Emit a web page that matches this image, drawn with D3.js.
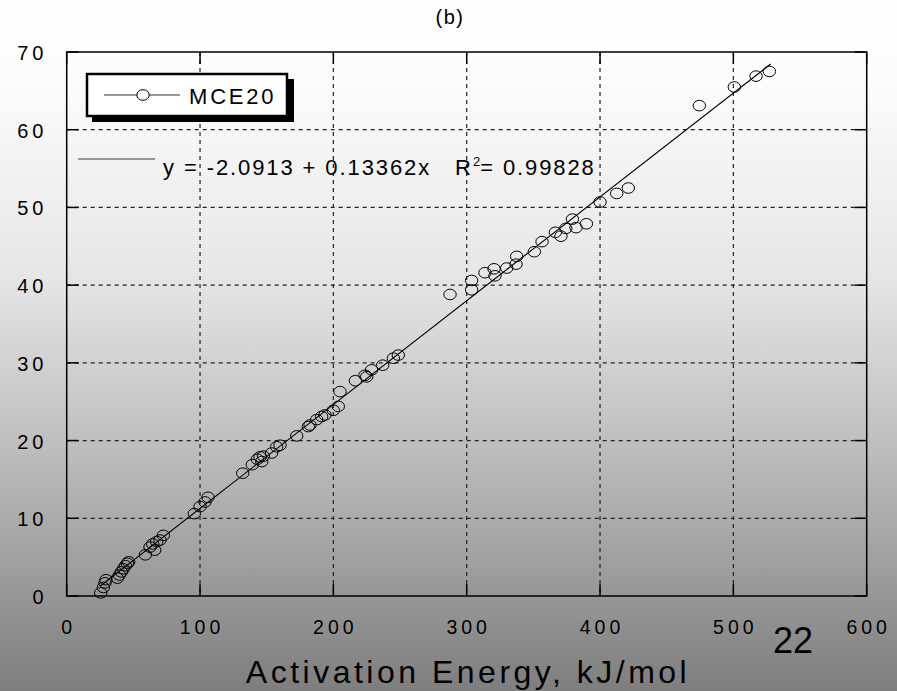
<!DOCTYPE html>
<html>
<head>
<meta charset="utf-8">
<script src="https://cdn.jsdelivr.net/npm/d3@7"></script>
<style>
	body { margin: 0; }
	svg text { font-family: "Liberation Sans", Arial, sans-serif; fill: #000; }
</style>
</head>
<body>
<svg width="897" height="691"></svg>
<script>
// @ Data
const activationEnergy = [
	25.5, 27.5, 28.7, 29.5, 38, 39.5, 41, 42.5, 44, 45.5, 46.5,
	59, 62.5, 64.5, 66, 67.5, 70, 72.5, 95.7, 100, 103.7, 106,
	132, 139.2, 143, 146.3, 145, 147.5, 153.7, 157.5, 160, 172.5,
	181.2, 182.5, 187.5, 191.2, 193.7, 200, 203.7, 205, 216.5,
	223.7, 225, 228.7, 237, 245, 248.7, 287.5, 303.7, 303.7, 313.7,
	320.5, 321.2, 330, 337, 337.5, 350.7, 356.5, 366.5, 370.7,
	374.3, 379.3, 382, 389.8, 400, 412.5, 421.2, 474.5, 500.7, 517, 527,
];
const yValues = [
	0.4, 1.1, 1.7, 2.1, 2.3, 2.7, 3.1, 3.5, 3.9, 4.2, 4.4,
	5.3, 6.3, 6.7, 5.9, 7.0, 7.2, 7.8, 10.6, 11.5, 12.1, 12.7,
	15.8, 16.9, 17.6, 17.3, 17.9, 18.0, 18.4, 19.2, 19.4, 20.6,
	21.8, 22.0, 22.7, 23.1, 23.3, 23.9, 24.4, 26.3, 27.7,
	28.4, 28.2, 29.1, 29.7, 30.6, 31.0, 38.8, 40.6, 39.4, 41.6,
	42.1, 41.2, 42.2, 42.7, 43.7, 44.3, 45.6, 46.8, 46.3,
	47.3, 48.5, 47.4, 47.9, 50.7, 51.8, 52.5, 63.1, 65.5, 66.9, 67.5,
];
const xTicks = [0, 100, 200, 300, 400, 500, 600];
const yTicks = [0, 10, 20, 30, 40, 50, 60, 70];
const fitIntercept = -2.0913;
const fitSlope = 0.13362;
const fitR2 = "0.99828";
const fitRange = [25, 528];
const seriesName = "MCE20";

const points = activationEnergy.map((d, i) => ({ x: d, y: yValues[i] }));

// @ Layout
const W = 897, H = 691;
const plot = { left: 66.7, right: 866.7, top: 52, bottom: 596 };
const svg = d3.select("svg");

const x = d3.scaleLinear().domain([0, 600]).range([plot.left, plot.right]);
const y = d3.scaleLinear().domain([0, 70]).range([plot.bottom, plot.top]);

// background gradient
const defs = svg.append("defs");
const grad = defs.append("linearGradient")
	.attr("id", "bg").attr("x1", 0).attr("y1", 0).attr("x2", 0).attr("y2", 1);
[[0, "#ffffff"], [0.12, "#fcfcfc"], [0.4, "#e6e6e6"], [0.65, "#bdbdbd"], [1, "#7e7e7e"]]
	.forEach(([o, c]) => grad.append("stop").attr("offset", o).attr("stop-color", c));
svg.append("rect").attr("width", W).attr("height", H).attr("fill", "url(#bg)");

// @ Grid
const grid = svg.append("g").attr("stroke", "#222").attr("stroke-width", 1.2)
	.attr("stroke-dasharray", "4,4");
grid.selectAll("line.v")
	.data(xTicks.slice(1, -1))
	.enter().append("line")
	.attr("x1", (d) => x(d)).attr("x2", (d) => x(d))
	.attr("y1", plot.top).attr("y2", plot.bottom);
grid.selectAll("line.h")
	.data(yTicks.slice(1, -1))
	.enter().append("line")
	.attr("y1", (d) => y(d)).attr("y2", (d) => y(d))
	.attr("x1", plot.left).attr("x2", plot.right);

// frame
svg.append("rect")
	.attr("x", plot.left).attr("y", plot.top)
	.attr("width", plot.right - plot.left).attr("height", plot.bottom - plot.top)
	.attr("fill", "none").attr("stroke", "#000").attr("stroke-width", 1.5);

// inward ticks
const tickLen = 12;
const ticks = svg.append("g").attr("stroke", "#000").attr("stroke-width", 1.5);
yTicks.forEach((t) => {
	ticks.append("line").attr("x1", plot.left).attr("x2", plot.left + tickLen)
		.attr("y1", y(t)).attr("y2", y(t));
	ticks.append("line").attr("x1", plot.right - tickLen).attr("x2", plot.right)
		.attr("y1", y(t)).attr("y2", y(t));
});
xTicks.forEach((t) => {
	ticks.append("line").attr("x1", x(t)).attr("x2", x(t))
		.attr("y1", plot.bottom).attr("y2", plot.bottom - tickLen);
	ticks.append("line").attr("x1", x(t)).attr("x2", x(t))
		.attr("y1", plot.top).attr("y2", plot.top + tickLen);
});

// @ Tick labels (aligned on glyph box, so letter-spacing doesn't shift them)
svg.append("g").selectAll("text")
	.data(yTicks).enter().append("text")
	.attr("x", 0).attr("y", (d) => y(d) + 8)
	.style("font-size", "20px").style("letter-spacing", "4px")
	.text((d) => d)
	.each(function () {
		const b = this.getBBox();
		const glyphRight = b.x + b.width - 4; // drop trailing spacing
		d3.select(this).attr("x", 43.5 - glyphRight);
	});
svg.append("g").selectAll("text")
	.data(xTicks).enter().append("text")
	.attr("x", 0).attr("y", 634)
	.style("font-size", "19.5px").style("letter-spacing", "4px")
	.text((d) => d)
	.each(function (d) {
		const b = this.getBBox();
		const w = b.width - 4;
		d3.select(this).attr("x", x(d) - w / 2 - b.x);
	});

// @ Fit line + points
const line = d3.line().x((d) => x(d)).y((d) => y(fitIntercept + fitSlope * d));
svg.append("path")
	.attr("d", line(fitRange))
	.attr("fill", "none").attr("stroke", "#000").attr("stroke-width", 1.1);

svg.append("g").selectAll("ellipse")
	.data(points).enter().append("ellipse")
	.attr("cx", (d) => x(d.x)).attr("cy", (d) => y(d.y))
	.attr("rx", 6.2).attr("ry", 5.3)
	.attr("fill", "none").attr("stroke", "#000").attr("stroke-width", 1);

// @ Legend
const lg = svg.append("g");
lg.append("rect").attr("x", 92).attr("y", 79).attr("width", 202).attr("height", 43).attr("fill", "#000");
lg.append("rect").attr("x", 87).attr("y", 74).attr("width", 200).attr("height", 42)
	.attr("fill", "#fff").attr("stroke", "#000").attr("stroke-width", 2.5);
lg.append("line").attr("x1", 104).attr("x2", 180).attr("y1", 95).attr("y2", 95)
	.attr("stroke", "#777").attr("stroke-width", 1.3);
lg.append("ellipse").attr("cx", 143).attr("cy", 95).attr("rx", 6.2).attr("ry", 5.3)
	.attr("fill", "#fff").attr("stroke", "#000").attr("stroke-width", 1);
lg.append("text").attr("x", 189).attr("y", 104)
	.style("font-size", "22px").style("letter-spacing", "2.8px")
	.text(seriesName);

lg.append("line").attr("x1", 78).attr("x2", 155).attr("y1", 159).attr("y2", 159)
	.attr("stroke", "#777").attr("stroke-width", 1.3);
const fitText = lg.append("text").attr("x", 163).attr("y", 175)
	.style("font-size", "22px").style("letter-spacing", "1.9px").attr("xml:space", "preserve");
fitText.append("tspan").text(`y = ${fitIntercept} + ${fitSlope}x   R`);
fitText.append("tspan").attr("dy", -9).style("font-size", "13px").style("letter-spacing", "0px").text("2");
fitText.append("tspan").attr("dy", 9).text(`= ${fitR2}`);

// @ Titles
svg.append("text").attr("x", 450).attr("y", 24).attr("text-anchor", "middle")
	.style("font-size", "20px").style("letter-spacing", "1.5px").text("(b)");
svg.append("text").attr("x", 468).attr("y", 683).attr("text-anchor", "middle")
	.style("font-size", "32px").style("letter-spacing", "3.5px").text("Activation Energy, kJ/mol");
svg.append("text").attr("x", 793).attr("y", 653).attr("text-anchor", "middle")
	.style("font-size", "36px").text("22");
</script>
</body>
</html>
